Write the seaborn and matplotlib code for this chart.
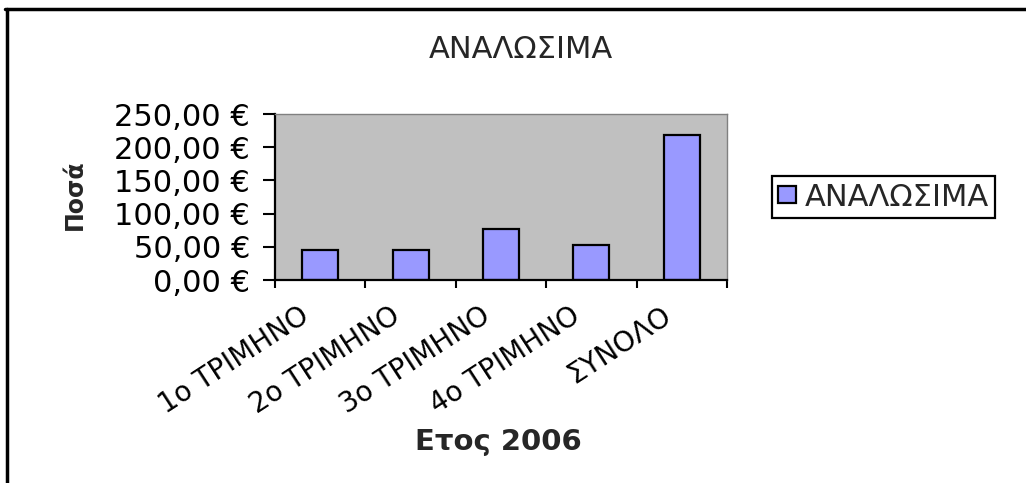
import numpy as np
import pandas as pd
import matplotlib
matplotlib.use('Agg')
import matplotlib.pyplot as plt
from matplotlib.lines import Line2D
from matplotlib.ticker import FixedLocator, FuncFormatter, NullFormatter
import seaborn as sns

# data
categories = ['1ο ΤΡΙΜΗΝΟ', '2ο ΤΡΙΜΗΝΟ', '3ο ΤΡΙΜΗΝΟ', '4ο ΤΡΙΜΗΝΟ', 'ΣΥΝΟΛΟ']
amounts = [44.6, 44.6, 76.7, 52.5, 218.4]
series_name = 'ΑΝΑΛΩΣΙΜΑ'
y_ticks = [0, 50, 100, 150, 200, 250]

df = pd.DataFrame({'period': categories, 'amount': amounts})

sns.set_theme(style='white')
plt.rcParams['font.family'] = ['DejaVu Sans']

W, H = 1026, 483
fig = plt.figure(figsize=(W / 100, H / 100), dpi=100)
fig.patch.set_facecolor('white')
ax = fig.add_axes([275 / W, 1 - 280 / H, 452 / W, 166 / H])

sns.barplot(data=df, x='period', y='amount', color='#9999FF', saturation=1,
            width=0.4, edgecolor='black', linewidth=1.6, ax=ax, label=series_name)

ax.set_facecolor('#C0C0C0')
ax.set_xlim(-0.5, len(categories) - 0.5)
ax.set_ylim(0, 250)

# y axis
ax.set_yticks(y_ticks)
ax.yaxis.set_major_formatter(FuncFormatter(lambda v, p: f'{v:.2f}'.replace('.', ',') + ' €'))
ax.tick_params(axis='y', direction='out', length=9, width=1.5, color='black',
               pad=9, labelsize=22, labelcolor='black', left=True)

# x axis: tick marks between categories, labels under the bars
ax.xaxis.set_major_locator(FixedLocator(np.arange(-0.5, len(categories), 1.0)))
ax.xaxis.set_major_formatter(NullFormatter())
ax.xaxis.set_minor_locator(FixedLocator(np.arange(len(categories)) - 0.15))
ax.set_xticklabels(categories, minor=True)
ax.tick_params(axis='x', which='major', direction='out', length=5.5, width=1.5,
               color='black', bottom=True)
ax.tick_params(axis='x', which='minor', length=0, pad=24, labelsize=20, labelcolor='black')
for lab in ax.get_xticklabels(minor=True):
    lab.set_rotation(33)
    lab.set_ha('right')
    lab.set_va('center')
    lab.set_rotation_mode('anchor')

for side in ['left', 'bottom']:
    ax.spines[side].set_color('black')
    ax.spines[side].set_linewidth(1.6)
for side in ['top', 'right']:
    ax.spines[side].set_color('#808080')
    ax.spines[side].set_linewidth(1)

ax.set_xlabel('')
ax.set_ylabel('')
fig.text(75 / W, 1 - 195 / H, 'Ποσά', rotation=90, fontsize=17, fontweight='bold',
         ha='center', va='center')
fig.text(498 / W, 1 - 442 / H, 'Ετος 2006', fontsize=21, fontweight='bold',
         ha='center', va='center')
fig.text(521 / W, 1 - 49 / H, series_name, fontsize=22, ha='center', va='center')

# legend
handles, labels = ax.get_legend_handles_labels()
if ax.get_legend() is not None:
    ax.get_legend().remove()
leg = fig.legend(handles, labels, loc='center', bbox_to_anchor=(883.5 / W, 1 - 197 / H),
                 fontsize=22, frameon=True, fancybox=False, framealpha=1,
                 edgecolor='black', handlelength=0.6, handleheight=0.45,
                 handletextpad=0.3, borderpad=0.2, borderaxespad=0)
leg.get_frame().set_linewidth(1.6)

# outer chart frame: only the left and top edges are inside the picture
fig.add_artist(Line2D([6.5 / W, 6.5 / W], [-0.05, 1 - 9 / H], transform=fig.transFigure,
                      color='black', linewidth=2.5))
fig.add_artist(Line2D([5 / W, 1.05], [1 - 9 / H, 1 - 9 / H], transform=fig.transFigure,
                      color='black', linewidth=2.5))

fig.savefig('out.png', dpi=100)
